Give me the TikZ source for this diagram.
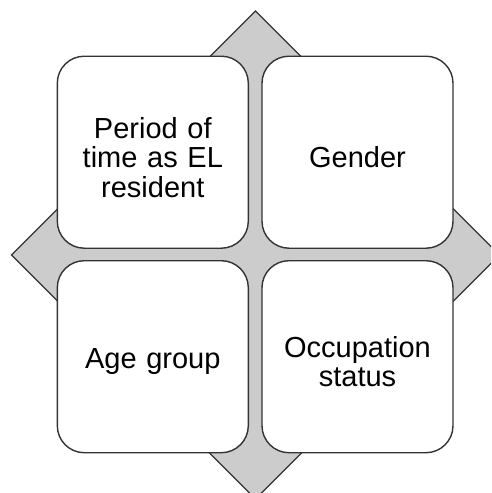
\documentclass[tikz,border=0pt]{standalone}
\usepackage{fontspec}
\setmainfont{Liberation Sans}
\begin{document}
\begin{tikzpicture}[x=1pt,y=-1pt,
  edge/.style={draw=black!80, line width=1.4pt},
  cell/.style={edge, fill=white, rectangle, rounded corners=27pt,
    minimum width=191pt, minimum height=192pt, inner sep=0pt},
  caption/.style={text width=170pt, align=center, yshift=-5pt,
    font=\fontsize{29}{29.5}\selectfont}]
  \useasboundingbox (0,0) rectangle (491,493);
  % gray backdrop diamond behind the four cells
  \begin{scope}
    \clip (0,0) rectangle (491,493);
    \draw[edge, fill=black!20, line join=miter]
      (255.5,11) -- (499.5,255) -- (255.5,499) -- (11.5,255) -- cycle;
  \end{scope}
  \node[cell, label={[caption]center:Period of\\time as EL\\resident}] (period) at (152.8,152.2) {};
  \node[cell, label={[caption]center:Gender}] (gender) at (357.5,152.2) {};
  \node[cell, label={[caption]center:Age group}] (age) at (152.8,356.7) {};
  \node[cell, label={[caption]center:Occupation\\status}] (occ) at (357.5,356.7) {};
\end{tikzpicture}
\end{document}
